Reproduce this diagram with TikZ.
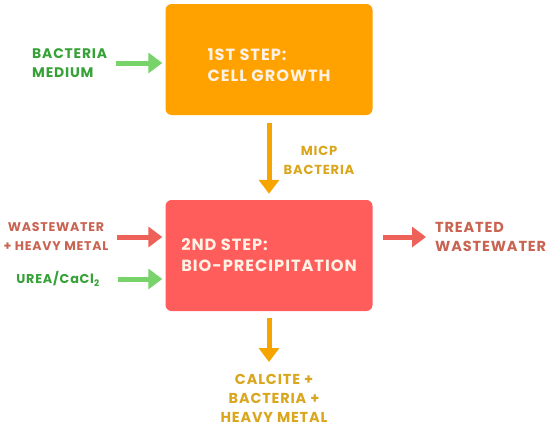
\documentclass[tikz,border=0pt]{standalone}
\usepackage{fontspec}
\setmainfont{Poppins}[LetterSpace=6]
\usetikzlibrary{arrows.meta,positioning}
\definecolor{stepone}{HTML}{FFA200}
\definecolor{steptwo}{HTML}{FF5C5C}
\definecolor{boxtext}{HTML}{FFF1E4}
\definecolor{greentext}{HTML}{36A136}
\definecolor{greenarrow}{HTML}{78D46A}
\definecolor{redtext}{HTML}{C96352}
\definecolor{redarrow}{HTML}{EE6158}
\definecolor{goldtext}{HTML}{D9A61E}
\definecolor{goldarrow}{HTML}{F5A400}

\begin{document}
\begin{tikzpicture}[
    x=1pt, y=-1pt,
    stepbox/.style={rectangle, rounded corners=6pt, minimum width=207pt, minimum height=111pt, align=left, text=boxtext, font=\fontsize{16.2}{21}\selectfont\bfseries, inner sep=0pt},
    lbl/.style={font=\fontsize{#1}{19}\selectfont\bfseries, inner sep=0pt},
    lbl/.default=13.5,
    fat/.style={line width=5pt, -{Triangle[length=14pt, width=20pt]}}
]
    \useasboundingbox (0,0) rectangle (550,431);

    % Nodes
    \node[stepbox, fill=stepone] (growth) at (269,59.5) {\rule{0pt}{24pt}1ST STEP:\\CELL GROWTH};
    \node[stepbox, fill=steptwo] (precip) at (269,255.5) {2ND STEP:\\BIO-PRECIPITATION};

    \node[lbl=13.9, align=left, text=greentext, anchor=west] (medium) at (32,63) {BACTERIA\\MEDIUM};
    \node[lbl=12.6, align=center, text=redtext] (waste) at (56,237) {WASTEWATER\\+ HEAVY METAL};
    \node[lbl=12.8, align=center, text=greentext] (urea) at (58,279) {UREA/CaCl\textsubscript{2}};
    \node[lbl=14.5, align=left, text=redtext, anchor=west] (treated) at (435,237) {TREATED\\WASTEWATER};
    \node[lbl=13.1, align=center, text=goldtext] (micp) at (319,160) {MICP\\BACTERIA};
    \node[lbl=14.4, align=center, text=goldtext, anchor=north] (product) at (274,374) {CALCITE +\\BACTERIA +\\HEAVY METAL};
    \coordinate (out) at (269,362);

    % Arrows
    \draw[fat, greenarrow, shorten >=3pt] (116,0 |- medium.east) -- (medium.east -| growth.west);
    \draw[fat, redarrow, shorten >=3pt] (117,0 |- waste.east) -- (waste.east -| precip.west);
    \draw[fat, greenarrow, shorten >=3pt] (118,0 |- urea.east) -- (urea.east -| precip.west);
    \draw[fat, redarrow, shorten <=10pt, shorten >=9pt] (precip.east |- treated.west) -- (treated.west);
    \draw[fat, goldarrow, shorten <=8pt, shorten >=6pt] (growth) -- (precip);
    \draw[fat, goldarrow, shorten <=7pt] (precip.south) -- (out);

\end{tikzpicture}
\end{document}
